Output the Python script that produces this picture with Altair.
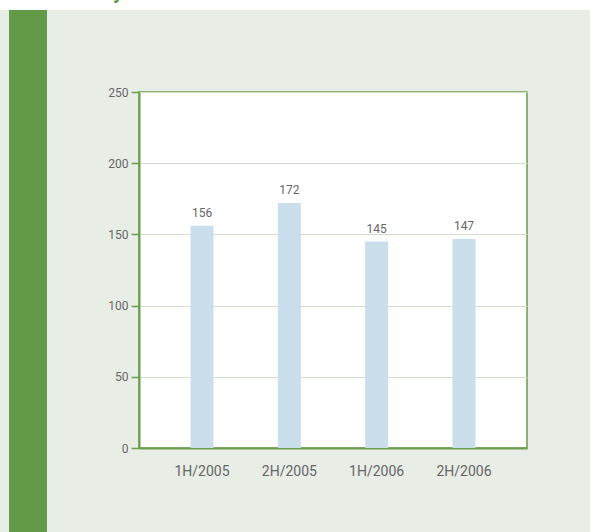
import altair as alt
import pandas as pd

periods = ["1H/2005", "2H/2005", "1H/2006", "2H/2006"]
values = [156, 172, 145, 147]
y_ticks = [0, 50, 100, 150, 200, 250]

df = pd.DataFrame({"period": periods, "value": values})
dummy = pd.DataFrame({"k": [0]})

GREEN = "#629a48"
AXIS_GREEN = "#6a9e4c"
GRID = "#cfe0c6"
BAR = "#cbdeeb"
TXT = "#666666"
BG = "#e8ede6"

yscale = alt.Scale(domain=[0, 250], nice=False, zero=True)

x_enc = alt.X(
    "period:N",
    sort=periods,
    title=None,
    scale=alt.Scale(paddingInner=0.737, paddingOuter=0.59),
    axis=alt.Axis(labelAngle=0, labelFontSize=14, labelColor=TXT, labelFont="Roboto",
                  tickSize=0, labelPadding=16, domainColor=AXIS_GREEN, domainWidth=2,
                  grid=False),
)
y_enc = alt.Y(
    "value:Q",
    title=None,
    scale=yscale,
    axis=alt.Axis(values=y_ticks, labelFontSize=12, labelColor=TXT, labelFont="Roboto",
                  tickSize=8, tickColor=AXIS_GREEN, tickWidth=1.5, labelPadding=3,
                  domainColor=AXIS_GREEN, domainWidth=2, grid=True, gridColor=GRID,
                  gridWidth=1),
)

bars = alt.Chart(df).mark_bar(color=BAR, size=23).encode(x=x_enc, y=y_enc)
labels = alt.Chart(df).mark_text(dy=-13, fontSize=12, color=TXT, font="Roboto").encode(
    x=alt.X("period:N", sort=periods),
    y=alt.Y("value:Q", scale=yscale),
    text="value:Q",
)

side_bar = alt.Chart(dummy).mark_rect(color=GREEN).encode(
    x=alt.value(-130), x2=alt.value(-92), y=alt.value(-82), y2=alt.value(440)
)
top_strip = alt.Chart(dummy).mark_rect(color="white").encode(
    x=alt.value(-139), x2=alt.value(451), y=alt.value(-92), y2=alt.value(-82)
)
title_tail = alt.Chart(dummy).mark_text(
    text="y", color=GREEN, fontSize=20, fontWeight="bold", font="Roboto", baseline="alphabetic"
).encode(x=alt.value(-21), y=alt.value(-93))

chart = alt.layer(top_strip, side_bar, title_tail, bars, labels).properties(
    width=388,
    height=356,
    padding={"left": 139, "top": 92, "right": 63, "bottom": 84},
    autosize=alt.AutoSizeParams(type="none"),
    background=BG,
).configure_view(
    fill="white", stroke=AXIS_GREEN, strokeWidth=1.5
)

chart.save("out.html", embed_options={"renderer": "svg", "actions": False})
